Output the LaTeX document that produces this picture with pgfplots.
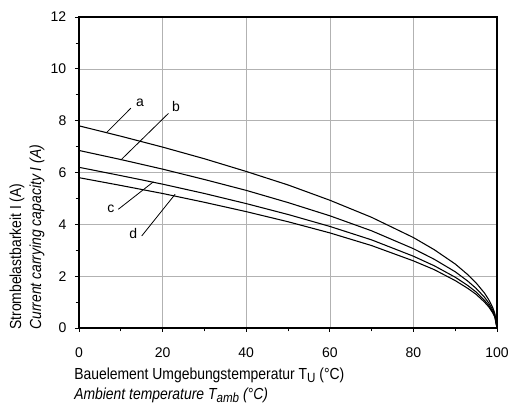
\documentclass[border=0pt]{standalone}
\usepackage{fontspec}
\setmainfont[FakeStretch=0.87]{Liberation Sans}
\newfontfamily\tickfont{Liberation Sans}
\usepackage{pgfplots}
\pgfplotsset{compat=1.18}
\newcommand{\sub}[1]{\raisebox{-2.2pt}{\fontsize{10}{12}\selectfont #1}}
\begin{document}
\begin{tikzpicture}
\useasboundingbox (-59.25pt,-60.75pt) rectangle (324pt,246pt);
\begin{axis}[
 at={(0,0)}, anchor=south west, scale only axis,
 width=313.5pt, height=233.25pt,
 xmin=0,xmax=100,ymin=0,ymax=12,
 xtick={0,20,...,100}, ytick={0,2,...,12},
 minor xtick={10,30,...,90}, minor ytick={1,3,...,11},
 tick pos=left, tick align=outside,
 major tick length=3pt, minor tick length=2.5pt,
 grid=major, major grid style={gray!60, line width=0.4pt},
 axis line style={line width=1pt},
 every tick/.append style={black, line width=0.6pt},
 ticklabel style={font=\tickfont\fontsize{10.5}{12}\selectfont},
 /pgf/number format/assume math mode=true,
 xticklabel style={yshift=-8pt},
 yticklabel style={xshift=-3pt},
 clip=false,
]
\addplot[black, line width=0.8pt] coordinates {(0,7.8)(10,7.40)(20,6.98)(30,6.53)(40,6.04)(50,5.52)(60,4.93)(70,4.27)(80,3.49)(85,3.02)(90,2.47)(93,2.06)(95,1.74)(97,1.35)(98,1.10)(99,0.78)(99.5,0.55)(100,0)};
\addplot[black, line width=0.8pt] coordinates {(0,6.85)(10,6.50)(20,6.13)(30,5.73)(40,5.31)(50,4.84)(60,4.33)(70,3.75)(80,3.06)(85,2.65)(90,2.17)(93,1.81)(95,1.53)(97,1.19)(98,0.97)(99,0.69)(99.5,0.48)(100,0)};
\addplot[black, line width=0.8pt] coordinates {(0,6.2)(10,5.88)(20,5.55)(30,5.19)(40,4.80)(50,4.38)(60,3.92)(70,3.40)(80,2.77)(85,2.40)(90,1.96)(93,1.64)(95,1.39)(97,1.07)(98,0.88)(99,0.62)(99.5,0.44)(100,0)};
\addplot[black, line width=0.8pt] coordinates {(0,5.8)(10,5.50)(20,5.19)(30,4.85)(40,4.49)(50,4.10)(60,3.67)(70,3.18)(80,2.59)(85,2.25)(90,1.83)(93,1.53)(95,1.30)(97,1.00)(98,0.82)(99,0.58)(99.5,0.41)(100,0)};
\draw[line width=0.6pt] (axis cs:6.6,7.54) -- (axis cs:12.4,8.48);
\node[font=\tickfont\fontsize{10.5}{12}\selectfont] at (axis cs:14.6,8.69) {a};
\draw[line width=0.6pt] (axis cs:10.0,6.48) -- (axis cs:21.4,8.28);
\node[font=\tickfont\fontsize{10.5}{12}\selectfont] at (axis cs:23.2,8.56) {b};
\draw[line width=0.6pt] (axis cs:9.4,4.58) -- (axis cs:17.8,5.64);
\node[font=\tickfont\fontsize{10.5}{12}\selectfont] at (axis cs:7.65,4.58) {c};
\draw[line width=0.6pt] (axis cs:15.0,3.55) -- (axis cs:23.0,5.16);
\node[font=\tickfont\fontsize{10.5}{12}\selectfont] at (axis cs:13.0,3.65) {d};
\end{axis}
\node[anchor=west, inner sep=0pt, font=\fontsize{12}{14}\selectfont] at (-3.75pt,-35.25pt) {Bauelement Umgebungstemperatur T\sub{U} (°C)};
\node[anchor=west, inner sep=0pt, font=\fontsize{12}{14}\selectfont\itshape] at (-3.75pt,-50.25pt) {Ambient temperature T\sub{\itshape amb} (°C)};
\node[anchor=west, rotate=90, inner sep=0pt, font=\fontsize{12}{14}\selectfont] at (-46.5pt,-1.5pt) {Strombelastbarkeit I (A)};
\node[anchor=west, rotate=90, inner sep=0pt, font=\fontsize{12}{14}\selectfont\itshape] at (-31.5pt,-1.5pt) {Current carrying capacity I (A)};
\end{tikzpicture}
\end{document}
